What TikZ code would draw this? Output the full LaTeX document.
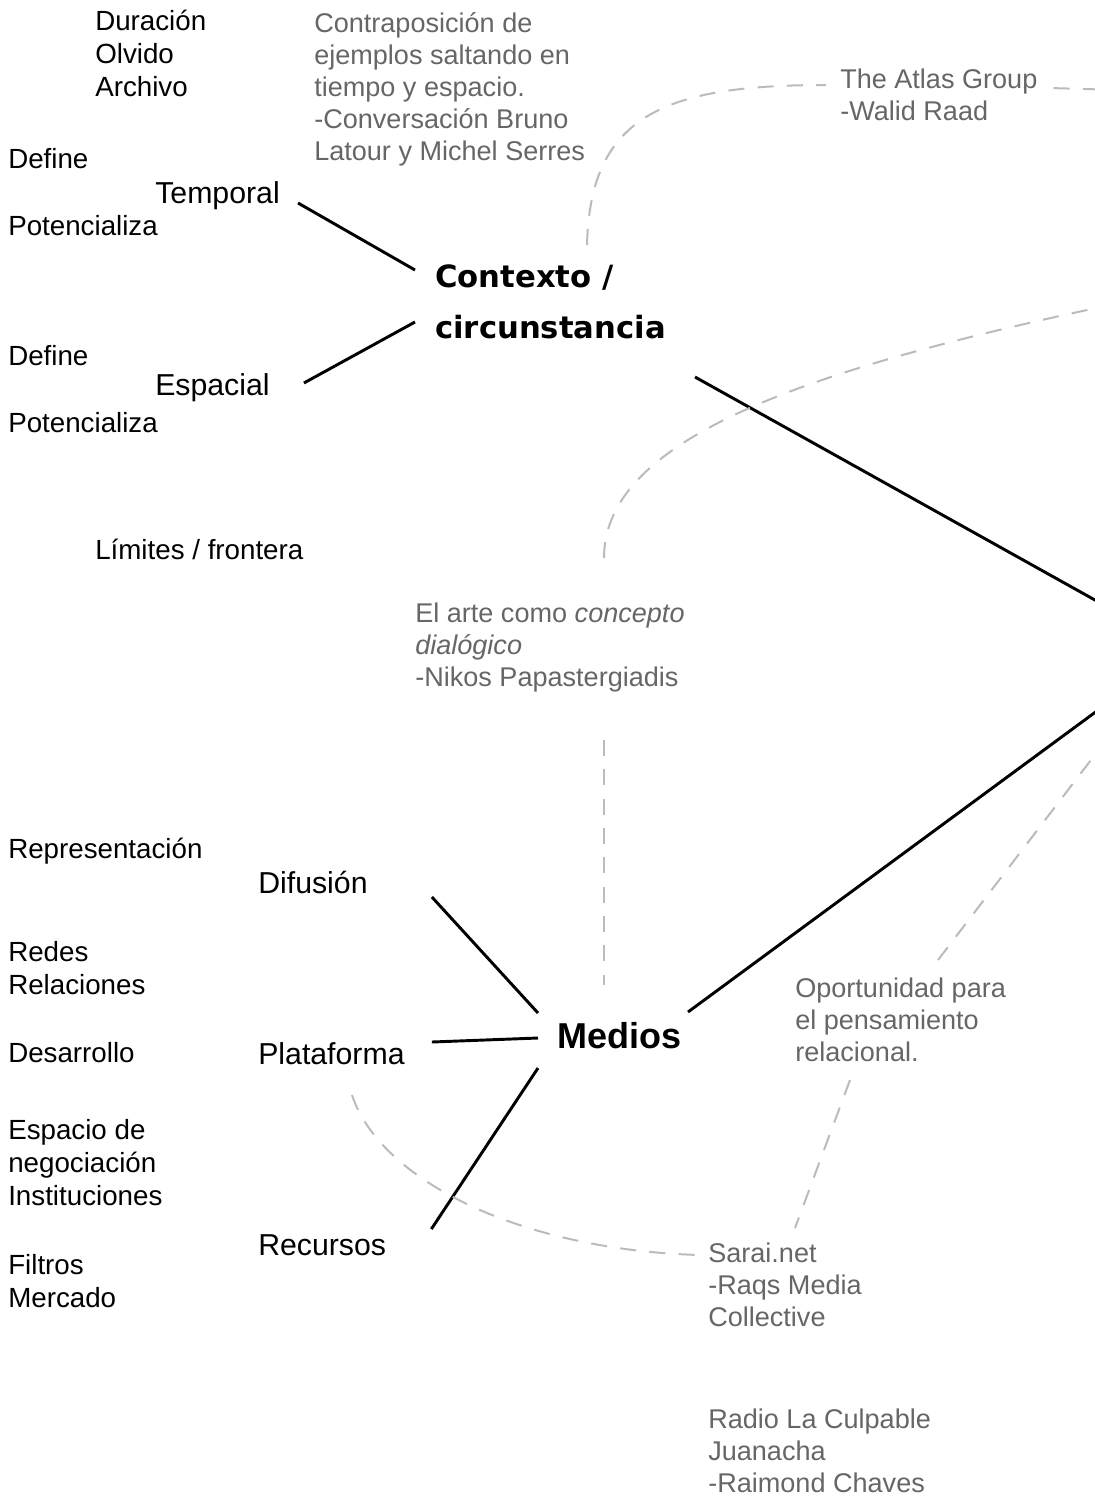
\documentclass[tikz,border=0pt]{standalone}
\usepackage{fontspec}
\setmainfont{Liberation Sans}
\newfontfamily\hubfont{DejaVu Sans}
\usetikzlibrary{calc}
\definecolor{notegray}{HTML}{666666}
\definecolor{trailgray}{HTML}{BBBBBB}

\begin{document}
\begin{tikzpicture}[x=0.75pt, y=-0.75pt,
	leaf/.style={anchor=base west, inner sep=0pt, align=left, font=\fontsize{20.8}{24.75}\selectfont},
	branch/.style={leaf, font=\fontsize{22.7}{27}\selectfont},
	quote/.style={leaf, text=notegray, font=\fontsize{20.3}{24}\selectfont},
	spoke/.style={line width=2.2pt},
	trail/.style={color=trailgray, line width=1.5pt, dash pattern=on 12pt off 10pt}]
	\clip (0,0) rectangle (1095,1496);
	\node (ctx) at (435,338) [leaf, font=\hubfont\bfseries\fontsize{23}{38.25}\selectfont] {Contexto /\\circunstancia};
	\node (medios) at (557,1048) [leaf, font=\bfseries\fontsize{27}{30}\selectfont] {Medios};
	\node (temporal) at (155,203) [branch] {Temporal};
	\node (espacial) at (155,395) [branch] {Espacial};
	\node (difusion) at (258,893) [branch] {Difusión};
	\node (plataforma) at (258,1064) [branch] {Plataforma};
	\node (recursos) at (258,1255) [branch] {Recursos};
	\node (duracion) at (95,96) [leaf] {Duración\\Olvido\\Archivo};
	\node (define1) at (8,168) [leaf] {Define};
	\node (potencia1) at (8,235) [leaf] {Potencializa};
	\node (define2) at (8,365) [leaf] {Define};
	\node (potencia2) at (8,432) [leaf] {Potencializa};
	\node (limites) at (95,559) [leaf] {Límites / frontera};
	\node (represent) at (8,858) [leaf] {Representación};
	\node (redes) at (8,994) [leaf] {Redes\\Relaciones};
	\node (desarrollo) at (8,1062) [leaf] {Desarrollo};
	\node (negocia) at (8,1205) [leaf] {Espacio de\\negociación\\Instituciones};
	\node (filtros) at (8,1307) [leaf] {Filtros\\Mercado};
	\node (contra) at (314,160) [quote] {Contraposición de\\ejemplos saltando en\\tiempo y espacio.\\-Conversación Bruno\\Latour y Michel Serres};
	\node (atlas) at (840,120) [quote] {The Atlas Group\\-Walid Raad};
	\node (elarte) at (415,686) [quote] {El arte como \textit{concepto}\\\textit{dialógico}\\-Nikos Papastergiadis};
	\node (oport) at (795,1061) [quote] {Oportunidad para\\el pensamiento\\relacional.};
	\node (sarai) at (708,1326) [quote] {Sarai.net\\-Raqs Media\\Collective};
	\node (radio) at (708,1492) [quote] {Radio La Culpable\\Juanacha\\-Raimond Chaves};
	\coordinate (ctxout) at (1120,614);
	\coordinate (medout) at (1120,694);
	\coordinate (atlasout) at (1120,90);
	\coordinate (arteout) at (1120,303);
	\coordinate (oportout) at (1120,722);
	\draw [spoke] ($(temporal.base east)+(18,0)$) -- ($(ctx.base west)+(-20,-68)$);
	\draw [spoke] ($(espacial.base east)+(34,-12)$) -- ($(ctx.base west)+(-20,-16)$);
	\draw [spoke] ($(ctx.base west)+(260,39)$) -- (ctxout);
	\draw [spoke] ($(difusion.base east)+(64,4)$) -- ($(medios.base west)+(-19,-35)$);
	\draw [spoke] ($(plataforma.base east)+(27,-22)$) -- ($(medios.base west)+(-19,-10)$);
	\draw [spoke] ($(recursos.base east)+(45,-26)$) -- ($(medios.base west)+(-19,20)$);
	\draw [spoke] ($(medios.base west)+(131,-36)$) -- (medout);
	\draw [trail] ($(ctx.base west)+(152,-93)$) .. controls (590,115) and (665,85) .. ($(atlas.base west)+(-14,-35)$);
	\draw [trail] ($(atlas.north east)+(16,20)$) -- (atlasout);
	\draw [trail] ($(elarte.base west)+(189,-128)$) .. controls (604,440) and (800,370) .. (arteout);
	\draw [trail] ($(elarte.base west)+(189,54)$) -- ($(medios.base west)+(47,-63)$);
	\draw [trail] ($(oport.base west)+(143,-101)$) -- (oportout);
	\draw [trail] ($(oport.base west)+(55,19)$) -- ($(sarai.base west)+(87,-98)$);
	\draw [trail] ($(plataforma.base west)+(94,31)$) .. controls (380,1180) and (520,1250) .. ($(sarai.base west)+(-8,-71)$);
\end{tikzpicture}
\end{document}
